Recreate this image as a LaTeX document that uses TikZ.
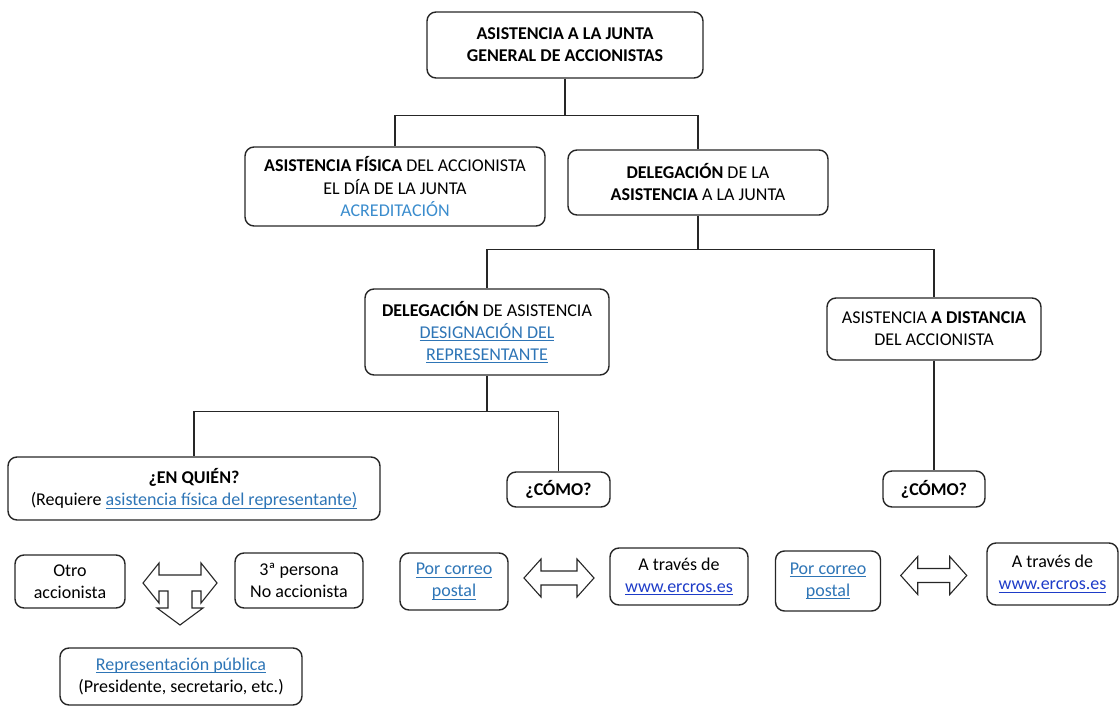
\documentclass[tikz,border=0pt]{standalone}
\usepackage{fontspec}
\setmainfont{Carlito}
\usepackage{tikz}
\usetikzlibrary{calc}
\definecolor{acredblue}{RGB}{58,140,205}
\definecolor{linkblue}{RGB}{46,117,182}
\definecolor{urlblue}{RGB}{30,60,200}
\newsavebox{\subbox}
\newcommand{\subraya}[1]{\sbox{\subbox}{#1}\rlap{\rule[-2.8pt]{\wd\subbox}{0.9pt}}\usebox{\subbox}}
\newcommand{\enlace}[1]{\textcolor{linkblue}{\subraya{#1}}}
\newcommand{\web}[1]{\textcolor{urlblue}{\subraya{#1}}}
\tikzset{
	caja/.style={draw=black!85, line width=1.4pt, rounded corners=9pt, align=center, inner sep=2pt,
		font=\fontsize{18}{22}\selectfont},
	conn/.style={draw=black!85, line width=1.4pt},
	blockarrow/.style={draw=black!85, line width=1.1pt, fill=white, line join=miter},
	dblarrow/.pic={
		\draw[blockarrow] (-#1,0) -- (-#1+17,-19) -- (-#1+17,-7) -- (#1-17,-7) -- (#1-17,-19) -- (#1,0)
		-- (#1-17,19) -- (#1-17,7) -- (-#1+17,7) -- (-#1+17,19) -- cycle;
	},
	tarrow/.pic={
		\draw[blockarrow] (-37,0) -- (-21,-20) -- (-21,-8) -- (21,-8) -- (21,-20) -- (37,0) -- (21,20)
		-- (21,8) -- (12,8) -- (12,25) -- (23,25) -- (0,42) -- (-23,25) -- (-12,25) -- (-12,8)
		-- (-21,8) -- (-21,20) -- cycle;
	},
}
\begin{document}
\begin{tikzpicture}[x=1pt,y=-1pt]
		\useasboundingbox (0,0) rectangle (1120,707);
		\node[caja, minimum width=276, minimum height=66] (junta) at (565,45) {\bfseries ASISTENCIA A LA JUNTA\\\bfseries GENERAL DE ACCIONISTAS};
		\node[caja, minimum width=300, minimum height=79] (fisica) at (395,186.5) {\textbf{ASISTENCIA FÍSICA} DEL ACCIONISTA\\EL DÍA DE LA JUNTA\\\textcolor{acredblue}{ACREDITACIÓN}};
		\node[caja, minimum width=260, minimum height=65] (delega) at (698,182.5) {\textbf{DELEGACIÓN} DE LA\\\textbf{ASISTENCIA} A LA JUNTA};
		\node[caja, minimum width=244, minimum height=86] (designa) at (487,332) {\textbf{DELEGACIÓN} DE ASISTENCIA\\\enlace{DESIGNACIÓN DEL}\\\enlace{REPRESENTANTE}};
		\node[caja, minimum width=214, minimum height=62] (distancia) at (934,329) {ASISTENCIA \textbf{A DISTANCIA}\\DEL ACCIONISTA};
		\node[caja, minimum width=372, minimum height=63] (quien) at (194,488.5) {\textbf{¿EN QUIÉN?}\\(Requiere \enlace{asistencia física del representante)}};
		\node[caja, minimum width=103, minimum height=35] (como1) at (558.5,489.5) {\textbf{¿CÓMO?}};
		\node[caja, minimum width=102, minimum height=36] (como2) at (934,489) {\textbf{¿CÓMO?}};
		\node[caja, minimum width=110, minimum height=53] (otro) at (70,581.5) {Otro\\accionista};
		\node[caja, minimum width=128, minimum height=55] (tercera) at (299,580.5) {3ª persona\\No accionista};
		\node[caja, minimum width=242, minimum height=57] (publica) at (181,676.5) {\enlace{Representación pública}\\(Presidente, secretario, etc.)};
		\node[caja, minimum width=108, minimum height=57] (correo1) at (454,581.5) {\enlace{Por correo}\\\enlace{postal}};
		\node[caja, minimum width=138, minimum height=57] (web1) at (679,576.5) {A través de\\\web{www.ercros.es}};
		\node[caja, minimum width=105, minimum height=60] (correo2) at (828,581) {\enlace{Por correo}\\\enlace{postal}};
		\node[caja, minimum width=131, minimum height=62] (web2) at (1052.5,574) {A través de\\\web{www.ercros.es}};
		\draw[conn] (junta.south) -- ++(0,37) coordinate (r1) -| (fisica.north);
		\draw[conn] (r1) -| (delega.north);
		\draw[conn] (delega.south) -- ++(0,34) coordinate (r2) -| (designa.north);
		\draw[conn] (r2) -| (distancia.north);
		\draw[conn] (designa.south) -- ++(0,36) coordinate (r3) -| (quien.north);
		\draw[conn] (r3) -| (como1.north);
		\draw[conn] (distancia.south) -- (como2.north);
		\pic at ($ (otro.east)!0.5!(tercera.west) + (0,2) $) {tarrow};
		\pic at ($ (correo1.east)!0.5!(web1.west) + (0,-1) $) {dblarrow=35};
		\pic at ($ (correo2.east)!0.5!(web2.west) + (0,-2) $) {dblarrow=33};
	\end{tikzpicture}
\end{document}
